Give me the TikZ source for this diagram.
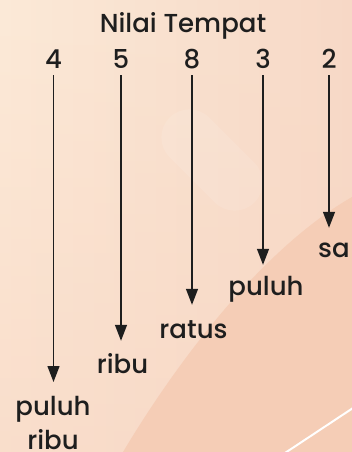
\documentclass[tikz,border=0pt]{standalone}
\usepackage{fontspec}
\setmainfont{Poppins Medium}
\usetikzlibrary{arrows.meta,fadings}
\definecolor{bgL}{HTML}{FCEAD8}
\definecolor{bgR}{HTML}{F7D9C7}
\definecolor{bgLow}{HTML}{F8D6C3}
\definecolor{swoosh}{HTML}{F5CDB6}
\definecolor{ink}{HTML}{1E1E1E}
\tikzset{
  txt/.style={inner sep=0pt, font=\fontsize{26}{34}\selectfont,
              align=center, text=ink},
  lbl/.style={txt, anchor=base, text height=18pt, text depth=6pt},
  placearrow/.style={draw=ink, line width=1.3pt,
              -{Triangle[length=16pt,width=12pt]}},
}
\begin{document}
\begin{tikzpicture}[x=1pt,y=-1pt]
  \useasboundingbox (0,0) rectangle (352,452);
  % background wash
  \shade[left color=bgL, right color=bgR] (0,0) rectangle (352,452);
  \fill[bgLow, opacity=0.6, path fading=north] (0,0) rectangle (352,452);
  % soft highlight
  \fill[white, opacity=0.1, rounded corners=28pt, rotate around={-45:(212,160)}]
    (152,132) rectangle (272,188);
  % darker swoosh in the lower right
  \fill[swoosh] (123,452) .. controls (175,365) and (260,250) .. (352,197)
    -- (352,452) -- cycle;
  % thin white stroke
  \draw[white, line width=2pt] (285,453) -- (353,408);

  % heading and digits
  \node[lbl] (title) at (183,33) {Nilai Tempat};
  \node[lbl] (d1) at (53.5,69) {4};
  \node[lbl] (d2) at (121,69) {5};
  \node[lbl] (d3) at (192,69) {8};
  \node[lbl] (d4) at (263,69) {3};
  \node[lbl] (d5) at (329,69) {2};

  % place names
  \node[txt, anchor=north] (l1) at (53,396) {puluh\\ribu};
  \node[lbl] (l2) at (122.5,373) {ribu};
  \node[lbl] (l3) at (193.5,338) {ratus};
  \node[lbl] (l4) at (266,295) {puluh};
  \node[lbl] (l5) at (334,257) {sa};

  % arrows from each digit to its place
  \draw[placearrow, shorten >=14pt] (d1.south) -- (d1.south |- l1.north);
  \draw[placearrow, shorten >=14pt] (d2.south) -- (d2.south |- l2.north);
  \draw[placearrow, shorten >=15pt] (d3.south) -- (d3.south |- l3.north);
  \draw[placearrow, shorten >=12pt] (d4.south) -- (d4.south |- l4.north);
  \draw[placearrow, shorten >=11pt] (d5.south) -- (d5.south |- l5.north);
\end{tikzpicture}
\end{document}
